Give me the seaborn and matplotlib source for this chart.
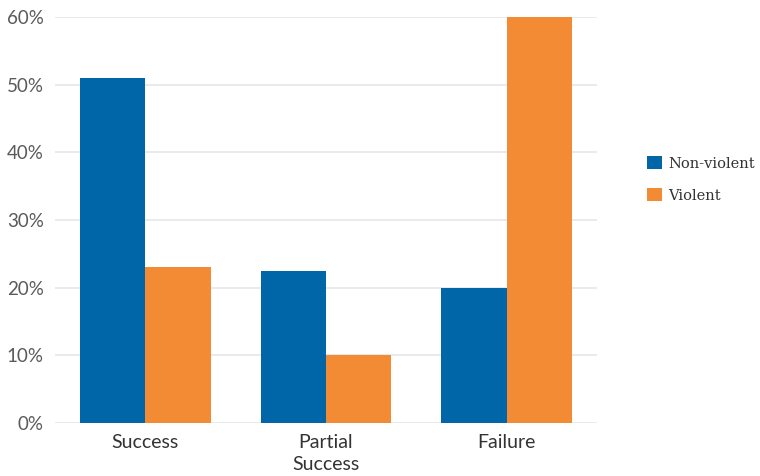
import matplotlib
matplotlib.use("Agg")
import matplotlib.pyplot as plt
import seaborn as sns
import pandas as pd
from matplotlib.patches import Patch

categories = ["Success", "Partial\nSuccess", "Failure"]
non_violent = [51, 22.5, 20]
violent = [23, 10, 60]
series = ["Non-violent", "Violent"]
yticks = [0, 10, 20, 30, 40, 50, 60]

colors = {"Non-violent": "#0066a8", "Violent": "#f28b34"}

df = pd.DataFrame({
    "category": categories * 2,
    "value": non_violent + violent,
    "type": [series[0]] * len(categories) + [series[1]] * len(categories),
})

sns.set_style("white")
plt.rcParams["font.family"] = ["Lato", "DejaVu Sans"]

fig = plt.figure(figsize=(7.6, 4.76), dpi=100)
ax = fig.add_axes([0.0724, 0.1113, 0.7131, 0.8530])

sns.barplot(data=df, x="category", y="value", hue="type", order=categories,
            hue_order=series, palette=colors, width=0.725, gap=0,
            saturation=1, linewidth=0, errorbar=None, ax=ax, legend=False,
            zorder=3)

ax.set_xlim(-0.5, 2.5)
ax.set_ylim(0, 60)
ax.set_yticks(yticks)
ax.set_yticklabels([f"{v}%" for v in yticks])
ax.grid(axis="y", color="#e6e6e6", linewidth=1.2, zorder=0)
ax.set_axisbelow(True)
for s in ax.spines.values():
    s.set_visible(False)
ax.set_xlabel("")
ax.set_ylabel("")
ax.tick_params(axis="y", length=0, pad=8, labelsize=13.5, labelcolor="#5a5a5a")
ax.tick_params(axis="x", length=0, pad=8, labelsize=14, labelcolor="#333333")
for lbl in ax.get_xticklabels():
    lbl.set_verticalalignment("top")
    lbl.set_linespacing(1.35)

handles = [Patch(facecolor=colors[s], edgecolor="none", label=s) for s in series]
leg = fig.legend(handles=handles, loc="upper left", bbox_to_anchor=(647 / 760, 1 - 156 / 476),
                 frameon=False, prop={"family": "DejaVu Serif", "size": 10.5},
                 handlelength=1.0, handleheight=1.0, handletextpad=0.45,
                 labelspacing=1.2, borderpad=0, borderaxespad=0)
for t in leg.get_texts():
    t.set_color("#333333")

fig.savefig("out.png", dpi=100)
